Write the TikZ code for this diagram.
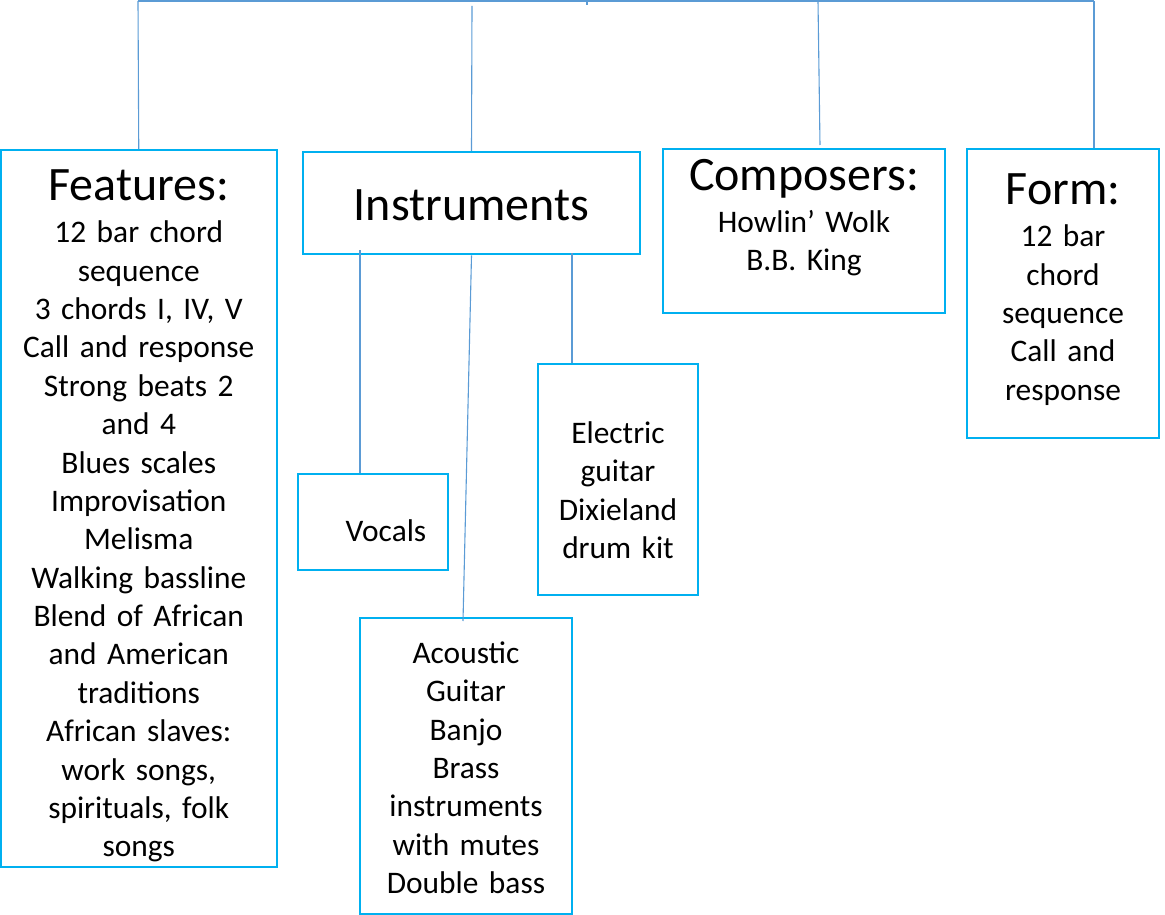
\documentclass[tikz,border=0pt]{standalone}
\usepackage{fontspec}
\setmainfont{Carlito}
\definecolor{boxblue}{RGB}{0,176,240}
\definecolor{linkblue}{RGB}{91,155,213}
\newcommand{\bighead}[1]{{\fontsize{48}{50}\selectfont #1}}
\begin{document}
\begin{tikzpicture}[x=1pt,y=-1pt,
box/.style={draw=boxblue,line width=2.4pt,anchor=north,inner ysep=0pt,inner xsep=4pt,align=center,font=\fontsize{31.4}{38.4}\selectfont},
link/.style={draw=linkblue,line width=1.1pt}]
\useasboundingbox (0,0) rectangle (1165,915);
\node[box,text width=268.5pt,text height=50pt,text depth=667pt](feat) at (138.75,149){\bighead{Features:}\\[4pt]12 bar chord\\sequence\\3 chords I, IV, V\\Call and response\\Strong beats 2\\and 4\\Blues scales\\Improvisation\\Melisma\\Walking bassline\\Blend of African\\and American\\traditions\\African slaves:\\work songs,\\spirituals, folk\\songs};
\node[box,text width=329pt,text height=68pt,text depth=34pt](inst) at (471.5,151){\bighead{Instruments}};
\node[box,text width=274pt,text height=41pt,text depth=123pt](comp) at (804,148){\bighead{Composers:}\\[4pt]Howlin’ Wolk\\B.B. King};
\node[box,text width=184pt,text height=55pt,text depth=234pt](form) at (1063,148){\bighead{Form:}\\[4pt]12 bar\\chord\\sequence\\Call and\\response};
\node[box,text width=142pt,text height=67pt,text depth=29pt](voc) at (373,473){\hspace*{26pt}Vocals};
\node[box,text width=152pt,text height=79pt,text depth=152pt](elec) at (618,363){Electric\\guitar\\Dixieland\\drum kit};
\node[box,text width=204pt,text height=45pt,text depth=251pt](acou) at (466,617){Acoustic\\Guitar\\Banjo\\Brass\\instruments\\with mutes\\Double bass};
\coordinate(hubL) at (138,1);
\coordinate(hubR) at (1094,1);
\coordinate(hub) at (587,0);
\coordinate(hubtip) at (587,5);
\coordinate(instup) at (472,6);
\coordinate(compup) at (818,1);
\coordinate(vocup) at (360,250);
\coordinate(elecup) at (572,253);
\draw[link](hubL)--(hubR);
\draw[link](hub)--(hubtip);
\draw[link](hubL)--(feat.north);
\draw[link](instup)--(inst.north);
\draw[link](compup)--([xshift=2pt,yshift=3pt]compup|-comp.north);
\draw[link](hubR)--(hubR|-form.north);
\draw[link](vocup)--(vocup|-voc.north);
\draw[link](inst.south)--([xshift=-3pt,yshift=-4pt]acou.north);
\draw[link](elecup)--(elecup|-elec.north);
\end{tikzpicture}
\end{document}
